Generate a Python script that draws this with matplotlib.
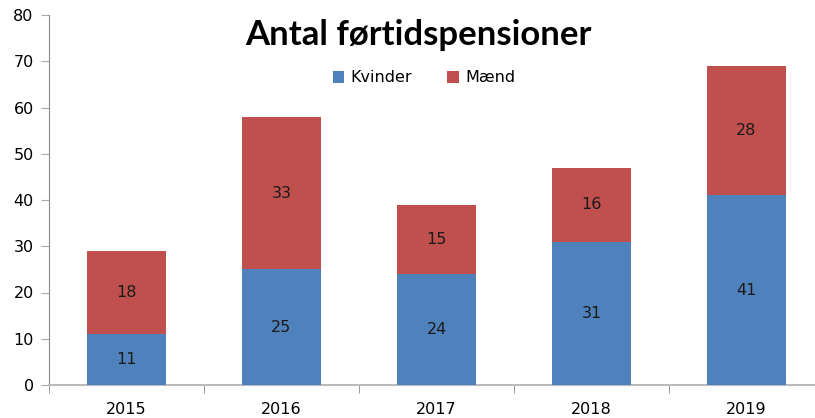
import matplotlib.pyplot as plt

# --- Data ---
aar = ["2015", "2016", "2017", "2018", "2019"]
kvinder = [11, 25, 24, 31, 41]
maend = [18, 33, 15, 16, 28]

blaa = "#4F81BD"
roed = "#C0504D"

fig = plt.figure(figsize=(8.15, 4.18), dpi=100)
ax = fig.add_axes([49 / 815, 33 / 418, 775 / 815, 370 / 418])

x = range(len(aar))
ax.bar(x, kvinder, width=0.516, color=blaa, label="Kvinder", zorder=3)
ax.bar(x, maend, width=0.516, bottom=kvinder, color=roed, label="Mænd", zorder=3)

# tal i midten af hver bar
for i in x:
    ax.text(i, kvinder[i] / 2, str(kvinder[i]), ha="center", va="center",
            fontsize=11.5, color="#1a1a1a", zorder=4)
    ax.text(i, kvinder[i] + maend[i] / 2, str(maend[i]), ha="center", va="center",
            fontsize=11.5, color="#1a1a1a", zorder=4)

ax.set_xlim(-0.5, 4.5)
ax.set_ylim(0, 80)
ax.set_yticks(range(0, 81, 10))
ax.set_xticks(x)
ax.set_xticklabels(aar)
ax.set_xticks([i + 0.5 for i in range(-1, 5)], minor=True)
ax.tick_params(axis="x", which="major", length=0, pad=12, labelsize=11.5)
ax.tick_params(axis="x", which="minor", length=6, color="#888888")
ax.tick_params(axis="y", length=6, color="#aaaaaa", labelsize=11.5, pad=5)

for s in ["top", "right"]:
    ax.spines[s].set_visible(False)
ax.spines["left"].set_color("#888888")
ax.spines["bottom"].set_color("#bbbbbb")
ax.spines["bottom"].set_linewidth(1.5)

fig.text(418 / 815, 1 - 35 / 418, "Antal førtidspensioner", ha="center", va="center",
         fontsize=25, fontweight="bold", family="Lato")
fig.legend(loc="center", bbox_to_anchor=(424 / 815, 1 - 78 / 418), ncol=2, frameon=False,
           handlelength=0.7, handleheight=0.7, columnspacing=2.2, handletextpad=0.4,
           prop={"size": 11.5})

fig.savefig("out.png", dpi=100)
